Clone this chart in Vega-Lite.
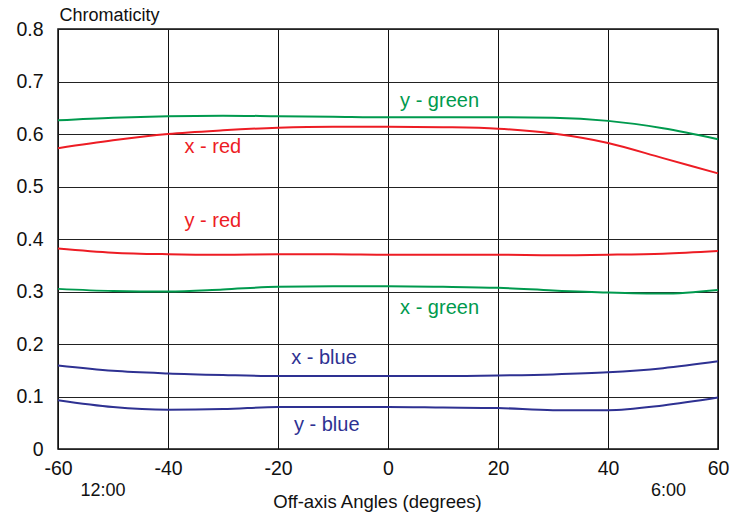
{
  "$schema": "https://vega.github.io/schema/vega-lite/v6.json",
  "width": 660,
  "height": 420,
  "autosize": {"type": "none"},
  "padding": {"left": 58, "top": 29, "right": 24, "bottom": 63},
  "background": "white",
  "config": {
    "font": "Liberation Sans",
    "view": {"stroke": "#111", "strokeWidth": 1.5}
  },
  "datasets": {
    "curves": [
      {"series": "x - red", "angle": -60, "value": 0.573},
      {"series": "x - red", "angle": -50, "value": 0.588},
      {"series": "x - red", "angle": -40, "value": 0.600},
      {"series": "x - red", "angle": -30, "value": 0.607},
      {"series": "x - red", "angle": -20, "value": 0.612},
      {"series": "x - red", "angle": -10, "value": 0.614},
      {"series": "x - red", "angle": 0, "value": 0.614},
      {"series": "x - red", "angle": 10, "value": 0.613},
      {"series": "x - red", "angle": 20, "value": 0.610},
      {"series": "x - red", "angle": 30, "value": 0.601},
      {"series": "x - red", "angle": 40, "value": 0.583},
      {"series": "x - red", "angle": 50, "value": 0.554},
      {"series": "x - red", "angle": 60, "value": 0.525},
      {"series": "y - green", "angle": -60, "value": 0.626},
      {"series": "y - green", "angle": -50, "value": 0.631},
      {"series": "y - green", "angle": -40, "value": 0.634},
      {"series": "y - green", "angle": -30, "value": 0.635},
      {"series": "y - green", "angle": -20, "value": 0.634},
      {"series": "y - green", "angle": -10, "value": 0.633},
      {"series": "y - green", "angle": 0, "value": 0.632},
      {"series": "y - green", "angle": 10, "value": 0.632},
      {"series": "y - green", "angle": 20, "value": 0.632},
      {"series": "y - green", "angle": 30, "value": 0.631},
      {"series": "y - green", "angle": 40, "value": 0.625},
      {"series": "y - green", "angle": 50, "value": 0.611},
      {"series": "y - green", "angle": 60, "value": 0.590},
      {"series": "y - red", "angle": -60, "value": 0.382},
      {"series": "y - red", "angle": -50, "value": 0.374},
      {"series": "y - red", "angle": -40, "value": 0.371},
      {"series": "y - red", "angle": -30, "value": 0.370},
      {"series": "y - red", "angle": -20, "value": 0.371},
      {"series": "y - red", "angle": -10, "value": 0.371},
      {"series": "y - red", "angle": 0, "value": 0.370},
      {"series": "y - red", "angle": 10, "value": 0.370},
      {"series": "y - red", "angle": 20, "value": 0.370},
      {"series": "y - red", "angle": 30, "value": 0.369},
      {"series": "y - red", "angle": 40, "value": 0.370},
      {"series": "y - red", "angle": 50, "value": 0.372},
      {"series": "y - red", "angle": 60, "value": 0.377},
      {"series": "x - green", "angle": -60, "value": 0.305},
      {"series": "x - green", "angle": -50, "value": 0.301},
      {"series": "x - green", "angle": -40, "value": 0.300},
      {"series": "x - green", "angle": -30, "value": 0.304},
      {"series": "x - green", "angle": -20, "value": 0.309},
      {"series": "x - green", "angle": -10, "value": 0.310},
      {"series": "x - green", "angle": 0, "value": 0.310},
      {"series": "x - green", "angle": 10, "value": 0.309},
      {"series": "x - green", "angle": 20, "value": 0.307},
      {"series": "x - green", "angle": 30, "value": 0.302},
      {"series": "x - green", "angle": 40, "value": 0.298},
      {"series": "x - green", "angle": 50, "value": 0.296},
      {"series": "x - green", "angle": 60, "value": 0.303},
      {"series": "x - blue", "angle": -60, "value": 0.159},
      {"series": "x - blue", "angle": -50, "value": 0.149},
      {"series": "x - blue", "angle": -40, "value": 0.144},
      {"series": "x - blue", "angle": -30, "value": 0.141},
      {"series": "x - blue", "angle": -20, "value": 0.139},
      {"series": "x - blue", "angle": -10, "value": 0.139},
      {"series": "x - blue", "angle": 0, "value": 0.139},
      {"series": "x - blue", "angle": 10, "value": 0.139},
      {"series": "x - blue", "angle": 20, "value": 0.140},
      {"series": "x - blue", "angle": 30, "value": 0.142},
      {"series": "x - blue", "angle": 40, "value": 0.146},
      {"series": "x - blue", "angle": 50, "value": 0.154},
      {"series": "x - blue", "angle": 60, "value": 0.167},
      {"series": "y - blue", "angle": -60, "value": 0.093},
      {"series": "y - blue", "angle": -50, "value": 0.080},
      {"series": "y - blue", "angle": -40, "value": 0.075},
      {"series": "y - blue", "angle": -30, "value": 0.076},
      {"series": "y - blue", "angle": -20, "value": 0.080},
      {"series": "y - blue", "angle": -10, "value": 0.080},
      {"series": "y - blue", "angle": 0, "value": 0.080},
      {"series": "y - blue", "angle": 10, "value": 0.079},
      {"series": "y - blue", "angle": 20, "value": 0.078},
      {"series": "y - blue", "angle": 30, "value": 0.074},
      {"series": "y - blue", "angle": 40, "value": 0.074},
      {"series": "y - blue", "angle": 50, "value": 0.083},
      {"series": "y - blue", "angle": 60, "value": 0.098}
    ],
    "labels": [
      {"series": "y - green", "angle": 2.2, "value": 0.663},
      {"series": "x - red", "angle": -37, "value": 0.576},
      {"series": "y - red", "angle": -37, "value": 0.435},
      {"series": "x - green", "angle": 2.2, "value": 0.269},
      {"series": "x - blue", "angle": -17.6, "value": 0.174},
      {"series": "y - blue", "angle": -17.1, "value": 0.046}
    ],
    "clock": [
      {"text": "12:00", "angle": -51.8, "value": -0.080},
      {"text": "6:00", "angle": 51.0, "value": -0.080}
    ]
  },
  "layer": [
    {
      "data": {"name": "curves"},
      "mark": {"type": "line", "interpolate": "monotone", "strokeWidth": 2},
      "encoding": {
        "x": {
          "field": "angle", "type": "quantitative",
          "scale": {"domain": [-60, 60], "nice": false},
          "axis": {
            "values": [-60, -40, -20, 0, 20, 40, 60],
            "labelExpr": "toString(datum.value)",
            "grid": true, "gridColor": "#111", "gridOpacity": 1, "gridWidth": 1,
            "domain": false, "ticks": false,
            "labelFontSize": 19.5, "labelColor": "#111", "labelPadding": 10,
            "labelFlush": false,
            "title": "Off-axis Angles (degrees)",
            "titleFontSize": 18.5, "titleFontWeight": "normal", "titleColor": "#111",
            "titleBaseline": "alphabetic", "titleX": 319, "titleY": 58, "titleAlign": "center"
          }
        },
        "y": {
          "field": "value", "type": "quantitative",
          "scale": {"domain": [0, 0.8], "nice": false},
          "axis": {
            "values": [0, 0.1, 0.2, 0.3, 0.4, 0.5, 0.6, 0.7, 0.8],
            "format": "~g",
            "grid": true, "gridColor": "#222", "gridOpacity": 1, "gridWidth": 1,
            "domain": false, "ticks": false,
            "labelFontSize": 19.5, "labelColor": "#111", "labelPadding": 15,
            "labelFlush": false,
            "title": "Chromaticity",
            "titleFontSize": 18, "titleFontWeight": "normal", "titleColor": "#111",
            "titleAngle": 0, "titleAlign": "left", "titleBaseline": "alphabetic",
            "titleX": 1, "titleY": -9
          }
        },
        "color": {
          "field": "series", "type": "nominal",
          "scale": {
            "domain": ["x - red", "y - red", "x - green", "y - green", "x - blue", "y - blue"],
            "range": ["#ed1c24", "#ed1c24", "#009a4e", "#009a4e", "#2e3192", "#2e3192"]
          },
          "legend": null
        },
        "detail": {"field": "series"}
      }
    },
    {
      "data": {"name": "labels"},
      "mark": {"type": "text", "align": "left", "baseline": "middle", "fontSize": 20, "font": "Liberation Sans"},
      "encoding": {
        "x": {"field": "angle", "type": "quantitative"},
        "y": {"field": "value", "type": "quantitative"},
        "text": {"field": "series"},
        "color": {"field": "series", "type": "nominal", "legend": null}
      }
    },
    {
      "data": {"name": "clock"},
      "mark": {"type": "text", "align": "center", "baseline": "middle", "fontSize": 18, "color": "#111", "clip": false},
      "encoding": {
        "x": {"field": "angle", "type": "quantitative"},
        "y": {"field": "value", "type": "quantitative"},
        "text": {"field": "text"}
      }
    }
  ]
}
